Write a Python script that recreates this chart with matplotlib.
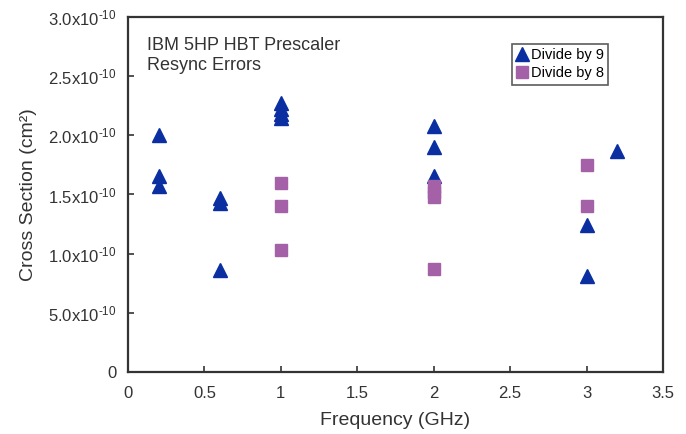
import matplotlib
matplotlib.use("Agg")
import matplotlib.pyplot as plt

plt.rcParams['font.family'] = ['Liberation Sans', 'DejaVu Sans']
plt.rcParams['mathtext.fontset'] = 'custom'
plt.rcParams['mathtext.rm'] = 'Liberation Sans'
plt.rcParams['mathtext.it'] = 'Liberation Sans'
plt.rcParams['mathtext.default'] = 'regular'

# Divide by 9 (triangulos)
freq_div9 = [0.2, 0.2, 0.2, 0.6, 0.6, 0.6, 1.0, 1.0, 1.0, 1.0, 2.0, 2.0, 2.0, 3.0, 3.0, 3.2]
xs_div9 = [2.00, 1.66, 1.57, 1.47, 1.43, 0.86, 2.27, 2.22, 2.18, 2.15, 2.08, 1.90, 1.66, 1.24, 0.81, 1.87]

# Divide by 8 (cuadrados)
freq_div8 = [1.0, 1.0, 1.0, 2.0, 2.0, 2.0, 2.0, 3.0, 3.0]
xs_div8 = [1.60, 1.40, 1.03, 1.57, 1.52, 1.48, 0.87, 1.75, 1.40]

x_ticks = [0, 0.5, 1, 1.5, 2, 2.5, 3, 3.5]
x_labels = ["0", "0.5", "1", "1.5", "2", "2.5", "3", "3.5"]
y_ticks = [0, 0.5, 1.0, 1.5, 2.0, 2.5, 3.0]
y_labels = ["0", "5.0x10$^{\u201010}$", "1.0x10$^{\u201010}$", "1.5x10$^{\u201010}$",
            "2.0x10$^{\u201010}$", "2.5x10$^{\u201010}$", "3.0x10$^{\u201010}$"]

azul = "#0b2fa0"
morado = "#a461a8"
gris = "#333333"

fig = plt.figure(figsize=(6.86, 4.34), dpi=100)
ax = fig.add_axes([0.1866, 0.1429, 0.7799, 0.8179])

ax.plot(freq_div9, xs_div9, linestyle="none", marker="^", ms=9.5, color=azul, label="Divide by 9")
ax.plot(freq_div8, xs_div8, linestyle="none", marker="s", ms=8.5, color=morado, label="Divide by 8")

ax.set_xlim(0, 3.5)
ax.set_ylim(0, 3.0)
ax.set_xticks(x_ticks)
ax.set_xticklabels(x_labels)
ax.set_yticks(y_ticks)
ax.set_yticklabels(y_labels)
ax.tick_params(direction="in", length=4, width=1.2, colors=gris, labelsize=12)
ax.tick_params(axis="x", pad=10)
ax.tick_params(axis="y", pad=8)
for s in ax.spines.values():
    s.set_linewidth(1.6)
    s.set_color(gris)

ax.set_xlabel("Frequency (GHz)", fontsize=14, color=gris, labelpad=8)
ax.set_ylabel("Cross Section (cm²)", fontsize=14, color=gris, labelpad=8)

ax.text(0.035, 0.945, "IBM 5HP HBT Prescaler\nResync Errors", transform=ax.transAxes,
        fontsize=13, color=gris, va="top", ha="left", linespacing=1.25)

leg = ax.legend(loc="upper right", bbox_to_anchor=(0.897, 0.925), fontsize=10.5,
                frameon=True, fancybox=False, handlelength=0.8, handletextpad=0.2,
                borderpad=0.3, labelspacing=0.3, borderaxespad=0)
leg.get_frame().set_edgecolor(gris)
leg.get_frame().set_linewidth(1.2)

plt.savefig("out.png", dpi=100)
